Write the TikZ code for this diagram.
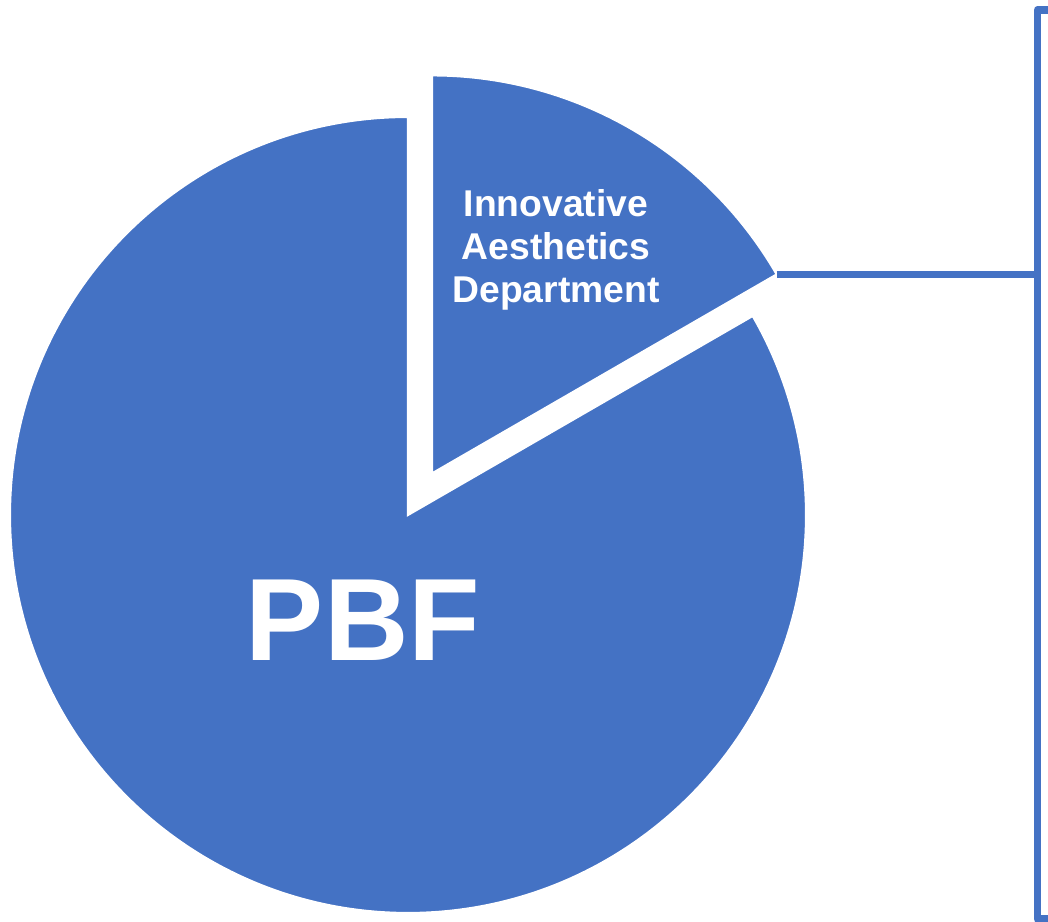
\documentclass[tikz,border=0pt]{standalone}
\usepackage{fontspec}
\setmainfont{Liberation Sans}
\usepackage{tikz}
\usetikzlibrary{calc}
\definecolor{pieblue}{HTML}{4472C4}
\tikzset{
	slice/.style={fill=pieblue, draw=white, line width=0.6pt},
	lead/.style={draw=pieblue, line width=0.075cm},
	slicetext/.style={text=white, font=\bfseries, align=center}
}

\begin{document}
\begin{tikzpicture}[x=0.01cm, y=0.01cm]
		\useasboundingbox (0,0) rectangle (1048,922);
		\coordinate (C) at (408,407);
		\coordinate (E) at ($(C)+(60:48)$);
		\fill[slice] (C) -- ++(90:398) arc[start angle=90, end angle=390, radius=398] -- cycle;
		\fill[slice] (E) -- ++(30:398) coordinate (tip) arc[start angle=30, end angle=90, radius=398] -- cycle;
		\node[slicetext, font=\bfseries\fontsize{33.3}{40}\selectfont](pbf) at (363,302) {PBF};
		\node[slicetext, font=\bfseries\fontsize{10.6}{12.3}\selectfont](iad) at (556,672) {Innovative\\Aesthetics\\Department};
		\coordinate (btop) at (1037.5,912);
		\coordinate (bbot) at (1037.5,3);
		\draw[lead, line join=round] (1050,912) -- (btop) -- (bbot) -- (1050,3);
		\draw[lead] (tip) -- (tip -| btop);
\end{tikzpicture}
\end{document}
